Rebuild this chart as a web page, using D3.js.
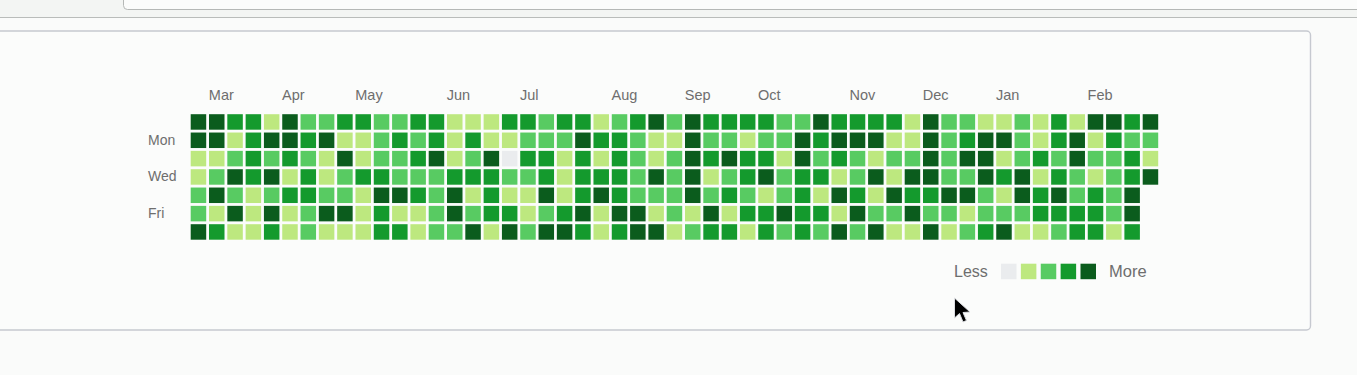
<!DOCTYPE html>
<html><head><meta charset="utf-8">
<script src="https://cdn.jsdelivr.net/npm/d3@7/dist/d3.min.js"></script>
<style>
html,body{margin:0;padding:0;background:#fafbfa;overflow:hidden}
svg{display:block}
text{font-family:"Liberation Sans",Arial,sans-serif;fill:#6e6e6e}
</style></head><body><svg id="c" width="1357" height="375"></svg>
<script>
const months = ["Mar","Apr","May","Jun","Jul","Aug","Sep","Oct","Nov","Dec","Jan","Feb"];
const monthWeeks = [1,5,9,14,18,23,27,31,36,40,44,49];
const dayLabels = ["Mon","Wed","Fri"];
const dayLabelRows = [1,3,5];
const legendLevels = [0,1,2,3,4];
const levelColors = ["#eaecee","#bde87f","#58cb62","#149a2d","#0b5c1d"];

const sunday    = [4,4,3,3,1,4,2,2,3,3,2,2,3,3,1,1,1, 3,3,2,3,3,1,2,3,4,2,4,3,3,3,3,2,2,4, 3,3,3,3,1,4,2,2,1,1,2,1,3,1,4,4,3,4];
const monday    = [4,4,1,3,4,4,3,4,1,1,2,3,2,3,1,3,1, 1,2,2,2,4,3,3,2,1,1,4,2,2,1,2,2,4,3, 4,4,4,1,1,4,2,3,4,4,2,1,3,4,1,3,2,2];
const tuesday   = [1,1,2,3,2,3,2,1,4,1,2,2,3,4,1,2,4, 0,3,3,1,3,1,3,2,1,2,4,3,4,3,3,1,4,2, 3,2,1,2,2,4,2,4,4,1,2,3,2,4,2,2,3,1];
const wednesday = [1,2,4,3,4,1,3,1,2,3,3,2,2,2,3,3,3, 2,2,3,1,3,3,3,2,4,2,4,1,2,3,4,2,3,3, 1,2,4,1,4,4,2,2,4,3,4,1,3,2,1,2,3,4];
const thursday  = [2,4,2,1,2,3,3,2,2,1,4,4,3,2,4,1,3, 1,1,4,1,3,4,3,2,2,2,4,2,3,2,1,2,3,1, 4,3,1,4,3,3,4,4,2,1,4,3,4,2,3,2,4];
const friday    = [2,1,4,1,4,1,2,4,4,1,3,1,1,2,4,2,3, 3,1,2,3,4,1,4,4,1,2,1,4,1,3,3,4,3,3, 1,4,2,2,4,2,2,1,2,2,2,3,3,3,3,2,4];
const saturday  = [4,3,1,1,3,1,2,1,1,1,3,3,1,2,2,4,1, 4,2,4,4,3,1,3,4,4,1,2,3,3,1,3,2,3,2, 4,2,4,1,1,4,1,2,3,4,1,1,2,3,3,1,3];
const weekdays = [sunday,monday,tuesday,wednesday,thursday,friday,saturday];

const svg = d3.select("#c");

// page chrome
svg.append("rect").attr("x",-2).attr("y",-2).attr("width",1361).attr("height",19.5)
  .attr("fill","#f3f5f3").attr("stroke","#b9bcba");
svg.append("rect").attr("x",123.5).attr("y",-10).attr("width",1240).attr("height",19.5).attr("rx",4)
  .attr("fill","#fbfcfb").attr("stroke","#b5b8b6");
svg.append("rect").attr("x",-10).attr("y",31).attr("width",1320.5).attr("height",299).attr("rx",4)
  .attr("fill","#fbfcfb").attr("stroke","#c6c9d0").attr("stroke-width",1.4);

// scales
const nWeeks = sunday.length;
const x = d3.scaleLinear().domain([0,nWeeks-1]).range([190.7,1142.7]);
const y = d3.scaleLinear().domain([0,6]).range([114.2,224.2]);
const color = d3.scaleOrdinal().domain(legendLevels).range(levelColors);
const cell = 15.5;

weekdays.forEach((row,r)=>{
  svg.append("g").selectAll("rect").data(row).join("rect")
    .attr("x",(d,i)=>x(i)).attr("y",y(r))
    .attr("width",cell).attr("height",cell)
    .attr("fill",d=>color(d));
});

svg.append("g").selectAll("text").data(months).join("text")
  .attr("x",(d,i)=>x(monthWeeks[i])-0.2).attr("y",99.5)
  .attr("font-size",14.5).text(d=>d);

svg.append("g").selectAll("text").data(dayLabels).join("text")
  .attr("x",148).attr("y",(d,i)=>y(dayLabelRows[i])+12)
  .attr("font-size",14).text(d=>d);

// legend
const lx = d3.scaleLinear().domain([0,4]).range([1001,1080.5]);
svg.append("g").selectAll("rect").data(legendLevels).join("rect")
  .attr("x",d=>lx(d)).attr("y",263.7).attr("width",cell).attr("height",cell)
  .attr("fill",d=>color(d));
svg.append("text").attr("x",954).attr("y",277).attr("font-size",16).text("Less");
svg.append("text").attr("x",1109).attr("y",277).attr("font-size",16.5).text("More");

// mouse cursor
svg.append("path")
  .attr("d","M954.5 298 L954.5 318 L959.5 313.5 L963 322 L966.5 320.5 L963 312.5 L970 312 Z")
  .attr("fill","#000").attr("stroke","#dcdee2").attr("stroke-width",1);
</script></body></html>
